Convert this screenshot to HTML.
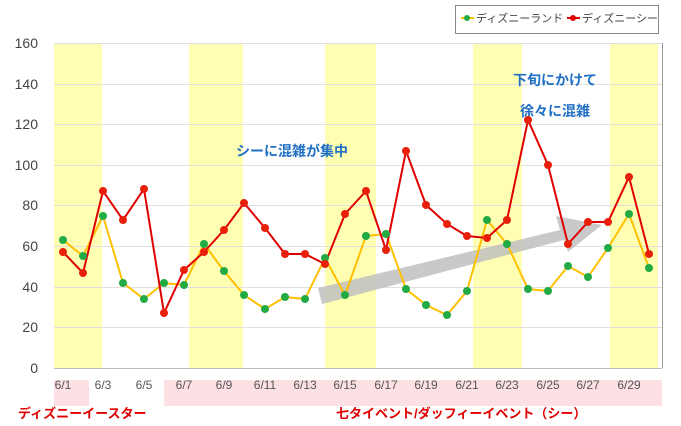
<!DOCTYPE html><html><head><meta charset="utf-8"><style>body{margin:0;background:#fff}svg{display:block}text{font-family:"Liberation Sans","Noto Sans CJK JP",sans-serif}</style></head><body>
<svg width="681" height="426" viewBox="0 0 681 426">
<g fill="#ffffb3"><rect x="54" y="43" width="48" height="325"/><rect x="189" y="43" width="54" height="325"/><rect x="325" y="43" width="51" height="325"/><rect x="473" y="43" width="49" height="325"/><rect x="610" y="43" width="48" height="325"/></g>
<g stroke="#e0e0e0" stroke-width="1"><line x1="54" x2="662" y1="43.5" y2="43.5"/><line x1="54" x2="662" y1="84.5" y2="84.5"/><line x1="54" x2="662" y1="124.5" y2="124.5"/><line x1="54" x2="662" y1="165.5" y2="165.5"/><line x1="54" x2="662" y1="205.5" y2="205.5"/><line x1="54" x2="662" y1="246.5" y2="246.5"/><line x1="54" x2="662" y1="287.5" y2="287.5"/><line x1="54" x2="662" y1="327.5" y2="327.5"/></g>
<line x1="54" x2="662" y1="368.5" y2="368.5" stroke="#bbb"/><line x1="662.5" x2="662.5" y1="43" y2="368" stroke="#999"/>
<g font-size="14" fill="#444" text-anchor="end"><text x="38" y="48">160</text><text x="38" y="89">140</text><text x="38" y="129">120</text><text x="38" y="170">100</text><text x="38" y="210">80</text><text x="38" y="251">60</text><text x="38" y="292">40</text><text x="38" y="332">20</text><text x="38" y="373">0</text></g>
<rect x="54" y="380" width="35" height="26" fill="#fde0e3"/><rect x="164" y="380" width="498" height="26" fill="#fde0e3"/>
<g font-size="12" fill="#555" text-anchor="middle"><text x="63" y="389">6/1</text><text x="103" y="389">6/3</text><text x="144" y="389">6/5</text><text x="184" y="389">6/7</text><text x="224" y="389">6/9</text><text x="265" y="389">6/11</text><text x="305" y="389">6/13</text><text x="345" y="389">6/15</text><text x="386" y="389">6/17</text><text x="426" y="389">6/19</text><text x="467" y="389">6/21</text><text x="507" y="389">6/23</text><text x="548" y="389">6/25</text><text x="588" y="389">6/27</text><text x="629" y="389">6/29</text></g>
<g font-size="13" font-weight="bold" fill="#e00000"><text x="18" y="418">ディズニーイースター</text><text x="336" y="418">七タイベント/ダッフィーイベント（シー）</text></g>
<polygon points="318,288 560,230 556,216 602,225 568,252 564,240 322,304" fill="#bfbfbf" opacity="0.85"/>
<g font-size="14" font-weight="bold" fill="#1f6fc5"><text x="236" y="156">シーに混雑が集中</text><text x="513" y="85">下旬にかけて</text><text x="520" y="116">徐々に混雑</text></g>
<polyline fill="none" stroke="#ffc000" stroke-width="2" points="63,240 83,256 103,216 123,283 144,299 164,283 184,285 204,244 224,271 244,295 265,309 285,297 305,299 325,258 345,295 366,236 386,234 406,289 426,305 447,315 467,291 487,220 507,244 528,289 548,291 568,266 588,277 608,248 629,214 649,268"/>
<polyline fill="none" stroke="#e00000" stroke-width="2" points="63,252 83,273 103,191 123,220 144,189 164,313 184,270 204,252 224,230 244,203 265,228 285,254 305,254 325,264 345,214 366,191 386,250 406,151 426,205 447,224 467,236 487,238 507,220 528,120 548,165 568,244 588,222 608,222 629,177 649,254"/>
<g fill="#22aa44"><circle cx="63" cy="240" r="4"/><circle cx="83" cy="256" r="4"/><circle cx="103" cy="216" r="4"/><circle cx="123" cy="283" r="4"/><circle cx="144" cy="299" r="4"/><circle cx="164" cy="283" r="4"/><circle cx="184" cy="285" r="4"/><circle cx="204" cy="244" r="4"/><circle cx="224" cy="271" r="4"/><circle cx="244" cy="295" r="4"/><circle cx="265" cy="309" r="4"/><circle cx="285" cy="297" r="4"/><circle cx="305" cy="299" r="4"/><circle cx="325" cy="258" r="4"/><circle cx="345" cy="295" r="4"/><circle cx="366" cy="236" r="4"/><circle cx="386" cy="234" r="4"/><circle cx="406" cy="289" r="4"/><circle cx="426" cy="305" r="4"/><circle cx="447" cy="315" r="4"/><circle cx="467" cy="291" r="4"/><circle cx="487" cy="220" r="4"/><circle cx="507" cy="244" r="4"/><circle cx="528" cy="289" r="4"/><circle cx="548" cy="291" r="4"/><circle cx="568" cy="266" r="4"/><circle cx="588" cy="277" r="4"/><circle cx="608" cy="248" r="4"/><circle cx="629" cy="214" r="4"/><circle cx="649" cy="268" r="4"/></g>
<g fill="#e8200a"><circle cx="63" cy="252" r="4"/><circle cx="83" cy="273" r="4"/><circle cx="103" cy="191" r="4"/><circle cx="123" cy="220" r="4"/><circle cx="144" cy="189" r="4"/><circle cx="164" cy="313" r="4"/><circle cx="184" cy="270" r="4"/><circle cx="204" cy="252" r="4"/><circle cx="224" cy="230" r="4"/><circle cx="244" cy="203" r="4"/><circle cx="265" cy="228" r="4"/><circle cx="285" cy="254" r="4"/><circle cx="305" cy="254" r="4"/><circle cx="325" cy="264" r="4"/><circle cx="345" cy="214" r="4"/><circle cx="366" cy="191" r="4"/><circle cx="386" cy="250" r="4"/><circle cx="406" cy="151" r="4"/><circle cx="426" cy="205" r="4"/><circle cx="447" cy="224" r="4"/><circle cx="467" cy="236" r="4"/><circle cx="487" cy="238" r="4"/><circle cx="507" cy="220" r="4"/><circle cx="528" cy="120" r="4"/><circle cx="548" cy="165" r="4"/><circle cx="568" cy="244" r="4"/><circle cx="588" cy="222" r="4"/><circle cx="608" cy="222" r="4"/><circle cx="629" cy="177" r="4"/><circle cx="649" cy="254" r="4"/></g>
<rect x="455.5" y="5.5" width="203" height="28" fill="#fff" stroke="#888"/>
<line x1="461" x2="474" y1="18" y2="18" stroke="#ffc000" stroke-width="2"/><circle cx="467" cy="18" r="3" fill="#22aa44"/>
<line x1="567" x2="580" y1="18" y2="18" stroke="#e00000" stroke-width="2"/><circle cx="573" cy="18" r="3" fill="#e00000"/>
<g font-size="11" fill="#444"><text x="476" y="22">ディズニーランド</text><text x="582" y="22">ディズニーシー</text></g>
</svg></body></html>
